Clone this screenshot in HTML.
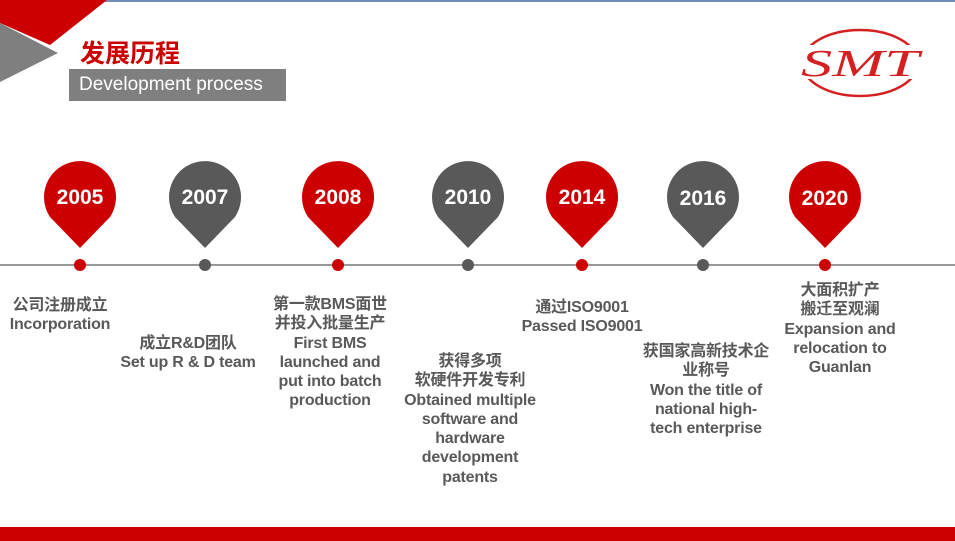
<!DOCTYPE html>
<html><head><meta charset="utf-8"><style>
body{margin:0;width:955px;height:541px;position:relative;overflow:hidden;background:#fff;font-family:"Liberation Sans","Noto Sans CJK SC",sans-serif}
.t{position:absolute;text-align:center;font-weight:bold;font-size:16px;line-height:19.3px;color:#595959;white-space:nowrap;transform:translateX(-50%);letter-spacing:-0.2px}
.y{position:absolute;color:#fff;font-weight:bold;font-size:21px;width:80px;text-align:center;transform:translateX(-50%)}
</style></head><body>
<div style="position:absolute;left:0;top:0;width:955px;height:2px;background:#6f8db5"></div>
<svg width="955" height="541" style="position:absolute;left:0;top:0">
<polygon points="0,0 107,0 50,45 0,23" fill="#cc0000"/>
<polygon points="0,23 58,53 0,82" fill="#7f7f7f"/>
<rect x="0" y="527" width="955" height="14" fill="#cc0000"/>
<line x1="0" y1="265" x2="955" y2="265" stroke="#595959" stroke-width="1.3"/>
<defs><path id="pin" d="M-36,0 A36,36 0 1 1 30,20 L0,51 L-30,20 A36,36 0 0 1 -36,0Z"/></defs>
<use href="#pin" x="80" y="197" fill="#cc0000"/><circle cx="80" cy="265" r="6" fill="#cc0000"/>
<use href="#pin" x="205" y="197" fill="#595959"/><circle cx="205" cy="265" r="6" fill="#595959"/>
<use href="#pin" x="338" y="197" fill="#cc0000"/><circle cx="338" cy="265" r="6" fill="#cc0000"/>
<use href="#pin" x="468" y="197" fill="#595959"/><circle cx="468" cy="265" r="6" fill="#595959"/>
<use href="#pin" x="582" y="197" fill="#cc0000"/><circle cx="582" cy="265" r="6" fill="#cc0000"/>
<use href="#pin" x="703" y="197" fill="#595959"/><circle cx="703" cy="265" r="6" fill="#595959"/>
<use href="#pin" x="825" y="197" fill="#cc0000"/><circle cx="825" cy="265" r="6" fill="#cc0000"/>
<ellipse cx="860" cy="63" rx="58" ry="33" fill="none" stroke="#d42020" stroke-width="2.5"/>
<rect x="795" y="45" width="130" height="34" fill="#fff"/>
<text x="860" y="76" text-anchor="middle" font-family="Liberation Serif,serif" font-style="italic" font-size="38" fill="#d42020" textLength="118" lengthAdjust="spacingAndGlyphs">SMT</text>
</svg>
<div style="position:absolute;left:80px;top:34px;font-size:25px;font-weight:bold;color:#cc0000">发展历程</div>
<div style="position:absolute;left:69px;top:69px;width:217px;height:32px;background:#7f7f7f;color:#fff;font-size:19px;line-height:32px;padding-left:10px;box-sizing:border-box">Development process</div>
<div class="y" style="left:80px;top:186px">2005</div>
<div class="y" style="left:205px;top:186px">2007</div>
<div class="y" style="left:338px;top:186px">2008</div>
<div class="y" style="left:468px;top:186px">2010</div>
<div class="y" style="left:582px;top:186px">2014</div>
<div class="y" style="left:703px;top:187px">2016</div>
<div class="y" style="left:825px;top:187px">2020</div>
<div class="t" style="left:60px;top:296px">公司注册成立<br>Incorporation</div>
<div class="t" style="left:188px;top:334px">成立R&amp;D团队<br>Set up R &amp; D team</div>
<div class="t" style="left:330px;top:295px">第一款BMS面世<br>并投入批量生产<br>First BMS<br>launched and<br>put into batch<br>production</div>
<div class="t" style="left:470px;top:352px">获得多项<br>软硬件开发专利<br>Obtained multiple<br>software and<br>hardware<br>development<br>patents</div>
<div class="t" style="left:582px;top:298px">通过ISO9001<br>Passed ISO9001</div>
<div class="t" style="left:706px;top:342px">获国家高新技术企<br>业称号<br>Won the title of<br>national high-<br>tech enterprise</div>
<div class="t" style="left:840px;top:281px">大面积扩产<br>搬迁至观澜<br>Expansion and<br>relocation to<br>Guanlan</div>
</body></html>
